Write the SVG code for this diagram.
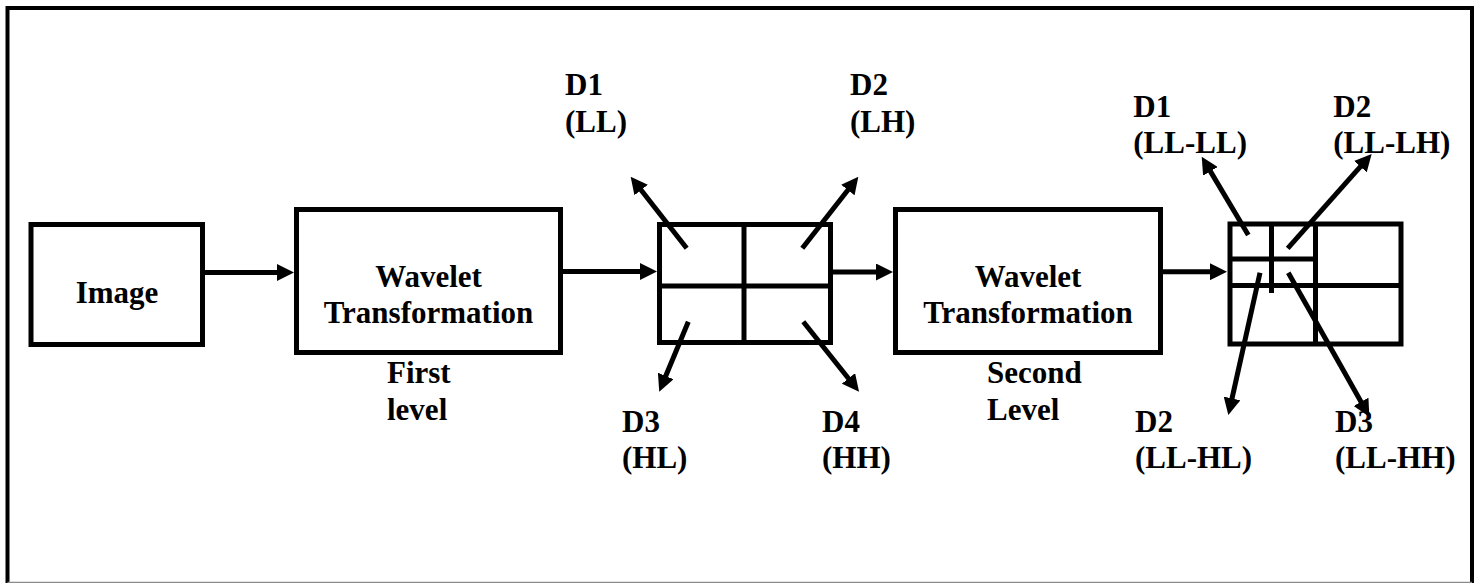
<svg xmlns="http://www.w3.org/2000/svg" width="1477" height="583" viewBox="0 0 1477 583">
  <style>
    .box { fill: #ffffff; stroke: #000000; stroke-width: 5; }
    .div { fill: none; stroke: #000000; stroke-width: 5; }
    .arrow { fill: none; stroke: #000000; stroke-width: 5; marker-end: url(#head); }
    .mid { text-anchor: middle; }
  </style>
  <defs>
    <marker id="head" markerUnits="userSpaceOnUse" markerWidth="17" markerHeight="17" refX="2" refY="8.5" orient="auto">
      <path d="M0,0 L17,8.5 L0,17 Z" fill="#000000"/>
    </marker>
  </defs>

  <rect width="1477" height="583" fill="#ffffff"/>

  <!-- page frame -->
  <g id="frame">
    <path d="M7.5,584 V8 H1472 V584" fill="none" stroke="#000000" stroke-width="4"/>
    <line x1="7.5" y1="582.5" x2="1472" y2="582.5" stroke="#8a8a8a" stroke-width="1.5"/>
  </g>

  <g font-family="Liberation Serif, Times New Roman, serif" font-weight="bold" font-size="31" fill="#000000">
    <!-- input image -->
    <g id="image">
      <rect class="box" x="31" y="224.5" width="171.5" height="120"/>
      <text class="mid" x="117" y="303">Image</text>
    </g>

    <!-- first wavelet stage -->
    <g id="wavelet1">
      <rect class="box" x="296.5" y="209.5" width="264" height="143"/>
      <text class="mid" x="428.5" y="286.7">Wavelet</text>
      <text class="mid" x="428.5" y="323.3">Transformation</text>
      <text x="387" y="383">First</text>
      <text x="387" y="420">level</text>
    </g>

    <!-- first level sub-bands -->
    <g id="subbands1">
      <rect class="box" x="659.5" y="224.5" width="171" height="118"/>
      <line class="div" x1="744" y1="224.5" x2="744" y2="342.5"/>
      <line class="div" x1="659.5" y1="286" x2="830.5" y2="286"/>
      <text x="565" y="95">D1</text>
      <text x="565" y="132">(LL)</text>
      <text x="850" y="95">D2</text>
      <text x="850" y="132">(LH)</text>
      <text x="622" y="431.7">D3</text>
      <text x="622" y="468.3">(HL)</text>
      <text x="822" y="431.7">D4</text>
      <text x="822" y="468.3">(HH)</text>
    </g>

    <!-- second wavelet stage -->
    <g id="wavelet2">
      <rect class="box" x="895.5" y="209.5" width="265" height="143"/>
      <text class="mid" x="1028" y="286.7">Wavelet</text>
      <text class="mid" x="1028" y="323.3">Transformation</text>
      <text x="987" y="383">Second</text>
      <text x="987" y="420">Level</text>
    </g>

    <!-- second level sub-bands -->
    <g id="subbands2">
      <rect class="box" x="1230" y="224" width="171" height="120"/>
      <line class="div" x1="1315.5" y1="224" x2="1315.5" y2="344"/>
      <line class="div" x1="1230" y1="285.5" x2="1401" y2="285.5"/>
      <line class="div" x1="1271.5" y1="224" x2="1271.5" y2="293"/>
      <line class="div" x1="1230" y1="259" x2="1315.5" y2="259"/>
      <text x="1133.3" y="116.7">D1</text>
      <text x="1133.3" y="153.3">(LL-LL)</text>
      <text x="1333.3" y="116.7">D2</text>
      <text x="1333.3" y="153.3">(LL-LH)</text>
      <text x="1135" y="431.7">D2</text>
      <text x="1135" y="468.3">(LL-HL)</text>
      <text x="1335" y="431.7">D3</text>
      <text x="1335" y="468.3">(LL-HH)</text>
    </g>
  </g>

  <!-- connectors -->
  <g id="connectors">
    <line class="arrow" x1="205" y1="272.5" x2="279" y2="272.5"/>
    <line class="arrow" x1="563" y1="271.5" x2="642" y2="271.5"/>
    <line class="arrow" x1="833" y1="272" x2="878" y2="272"/>
    <line class="arrow" x1="1163" y1="271.7" x2="1212" y2="271.7"/>

    <line class="arrow" x1="686.7" y1="248.3" x2="639.9" y2="188.5"/>
    <line class="arrow" x1="802.3" y1="248.3" x2="849.1" y2="188.5"/>
    <line class="arrow" x1="688.3" y1="321.7" x2="665.0" y2="377.8"/>
    <line class="arrow" x1="803.3" y1="321.7" x2="849.7" y2="380.0"/>

    <line class="arrow" x1="1248.3" y1="235" x2="1209.4" y2="169.6"/>
    <line class="arrow" x1="1287.7" y1="248.3" x2="1361.7" y2="165.2"/>
    <line class="arrow" x1="1260" y1="272.7" x2="1231.6" y2="400.4"/>
    <line class="arrow" x1="1288.3" y1="272.7" x2="1362.0" y2="403.6"/>
  </g>
</svg>
